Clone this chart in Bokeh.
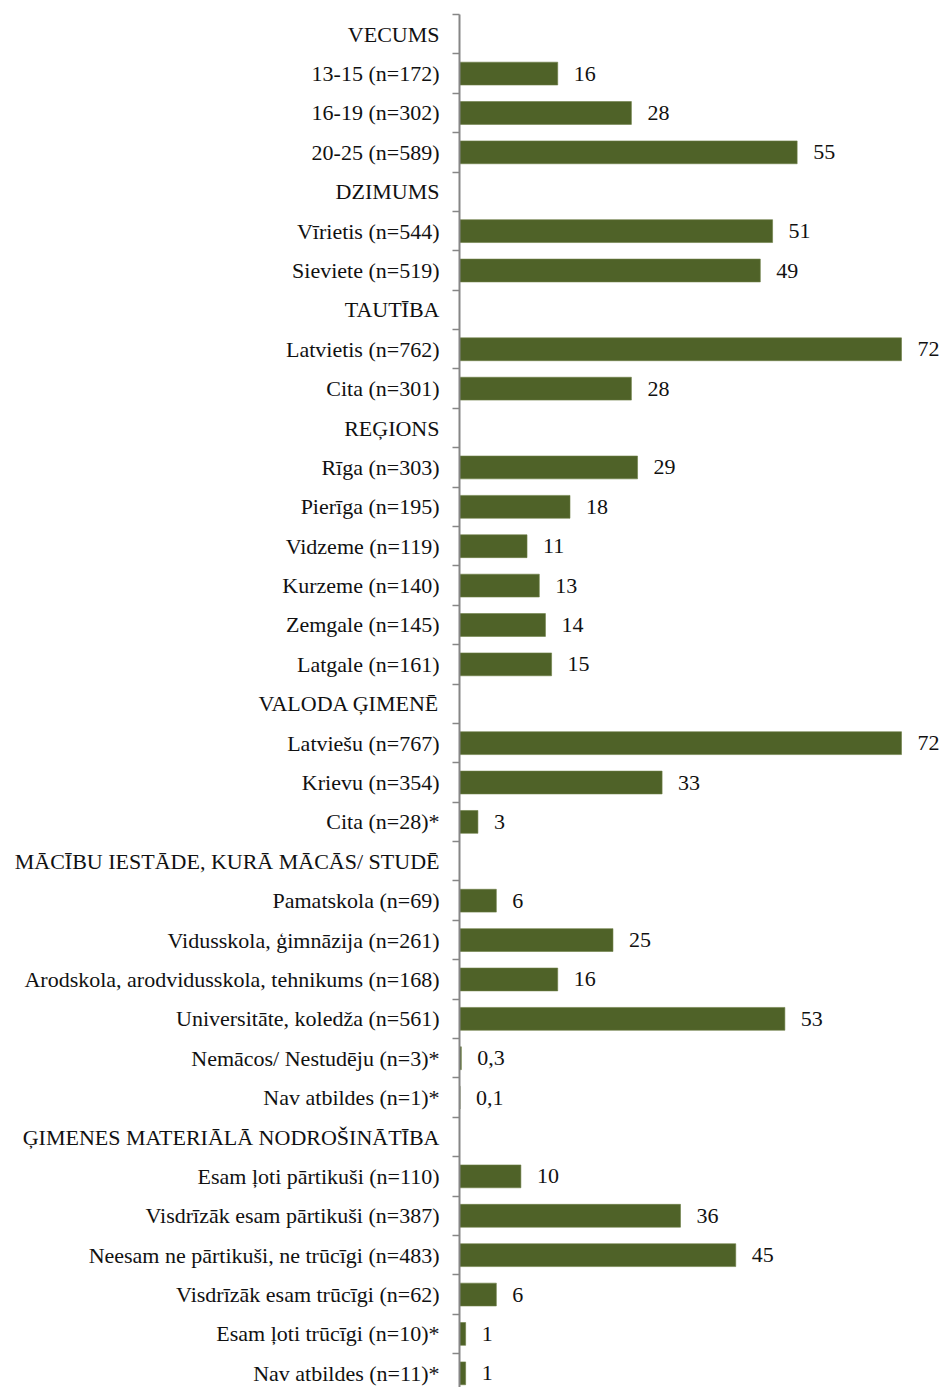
from bokeh.plotting import figure
from bokeh.models import Range1d, FixedTicker, ColumnDataSource
from bokeh.embed import file_html
from bokeh.resources import INLINE
from bokeh.core.properties import value

categories = [
    "VECUMS", "13-15 (n=172)", "16-19 (n=302)", "20-25 (n=589)",
    "DZIMUMS", "Vīrietis (n=544)", "Sieviete (n=519)",
    "TAUTĪBA", "Latvietis (n=762)", "Cita (n=301)",
    "REĢIONS", "Rīga (n=303)", "Pierīga (n=195)", "Vidzeme (n=119)",
    "Kurzeme (n=140)", "Zemgale (n=145)", "Latgale (n=161)",
    "VALODA ĢIMENĒ", "Latviešu (n=767)", "Krievu (n=354)", "Cita (n=28)*",
    "MĀCĪBU IESTĀDE, KURĀ MĀCĀS/ STUDĒ", "Pamatskola (n=69)",
    "Vidusskola, ģimnāzija (n=261)",
    "Arodskola, arodvidusskola, tehnikums (n=168)",
    "Universitāte, koledža (n=561)", "Nemācos/ Nestudēju (n=3)*",
    "Nav atbildes (n=1)*",
    "ĢIMENES MATERIĀLĀ NODROŠINĀTĪBA", "Esam ļoti pārtikuši (n=110)",
    "Visdrīzāk esam pārtikuši (n=387)", "Neesam ne pārtikuši, ne trūcīgi (n=483)",
    "Visdrīzāk esam trūcīgi (n=62)", "Esam ļoti trūcīgi (n=10)*",
    "Nav atbildes (n=11)*",
]
values = [
    None, 16, 28, 55,
    None, 51, 49,
    None, 72, 28,
    None, 29, 18, 11, 13, 14, 15,
    None, 72, 33, 3,
    None, 6, 25, 16, 53, 0.3, 0.1,
    None, 10, 36, 45, 6, 1, 1,
]

FONT = "Liberation Serif"
BAR = "#4F6228"
AXIS = "#868686"

ys, xs, labs = [], [], []
for i, v in enumerate(values):
    if v is None:
        continue
    ys.append(i)
    xs.append(v)
    labs.append(f"{v:g}".replace(".", ","))
src = ColumnDataSource(dict(y=ys, x=xs, lab=labs))

n = len(categories)
p = figure(width=943, height=1387, output_backend="svg", toolbar_location=None,
           x_range=Range1d(0, 78.84), y_range=Range1d(-0.5 + 34.86, -0.5),
           x_axis_location=None, min_border_left=459, min_border_right=0,
           min_border_top=14, min_border_bottom=0)
p.outline_line_color = None
p.xgrid.visible = False
p.ygrid.visible = False

p.hbar(y="y", left=0, right="x", height=0.58, source=src,
       fill_color=BAR, line_color="#6B7D45", line_width=0.6)
p.text(x="x", y="y", text="lab", source=src, x_offset=16,
       text_align="left", text_baseline="middle",
       text_font=value(FONT), text_font_size="22px", text_color="#111111")

ax = p.yaxis[0]
ax.ticker = FixedTicker(ticks=list(range(n)),
                        minor_ticks=[i + 0.5 for i in range(-1, n)])
ax.major_label_overrides = {i: c for i, c in enumerate(categories)}
ax.major_label_text_font = FONT
ax.major_label_text_font_size = "22px"
ax.major_label_text_color = "#111111"
ax.major_label_standoff = 13
ax.major_tick_line_color = None
ax.major_tick_out = 0
ax.major_tick_in = 0
ax.minor_tick_line_color = AXIS
ax.minor_tick_line_width = 1.5
ax.minor_tick_out = 7
ax.minor_tick_in = 0
ax.axis_line_color = AXIS
ax.axis_line_width = 2

open("out.html", "w").write(file_html(p, INLINE))
